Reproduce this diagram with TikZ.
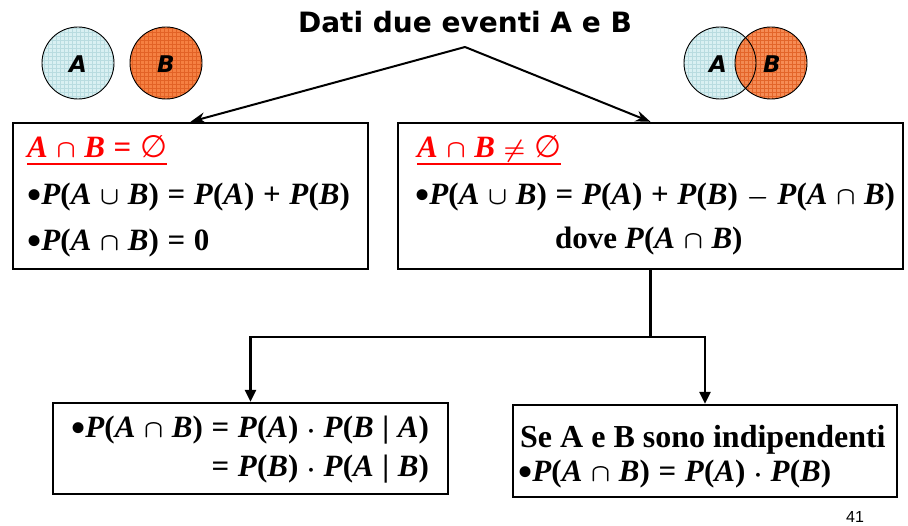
\documentclass[tikz,border=0pt]{standalone}
\usepackage{amssymb}
\usepackage{graphicx}
\usepackage{fontspec}
\setmainfont{Liberation Serif}
\newfontfamily\comicf{DejaVu Sans}
\newfontfamily\arialf{Liberation Sans}
\newfontfamily\symf{DejaVu Sans}
\usetikzlibrary{arrows.meta}
\definecolor{acyan}{RGB}{217,240,242}
\definecolor{acyangrid}{RGB}{185,220,224}
\definecolor{borange}{RGB}{245,128,66}
\definecolor{borangegrid}{RGB}{226,98,38}
\definecolor{redtxt}{RGB}{255,0,0}
\newcommand\vv[1]{\textbf{\textit{#1}}}
\newcommand\PP[1]{\vv{P}\textbf{(}#1\textbf{)}}
\newcommand\gp{\hspace{0.28em}}
\newcommand\capo{\gp$\cap$\gp}
\newcommand\cupo{\gp$\cup$\gp}
\newcommand\eqo{\gp\textbf{=}\gp}
\newcommand\pluso{\gp\textbf{+}\gp}
\newcommand\minuso{\gp$-$\gp}
\newcommand\dotto{\gp$\cdot$\gp}
\newcommand\baro{\gp\textbf{|}\gp}
\newcommand\bul{\raisebox{-0.1em}{\scalebox{1.3}{\textbf{\textbullet}}}}
\newcommand\emptyo{{\symf\mdseries\upshape ∅}}
\newcommand\vennc[4]{%
  \fill[#3] (#1,#2) circle (36pt);
  \begin{scope}
    \clip (#1,#2) circle (36pt);
    \draw[#4, line width=0.35pt, step=4pt] (#1-40,#2-40) grid (#1+40,#2+40);
  \end{scope}}
\tikzset{
  box/.style={draw, line width=2.4pt, inner sep=0pt},
  eq/.style={inner sep=0pt, anchor=base west, font=\fontsize{31}{36}\selectfont\boldmath\bfseries},
  txtl/.style={inner sep=0pt, anchor=base west, font=\fontsize{32}{38}\selectfont\bfseries},
  reqn/.style={eq, text=redtxt},
  conn/.style={line width=2.4pt},
  lbl/.style={font=\comicf\bfseries\itshape\fontsize{23}{26}\selectfont, inner sep=0pt},
  topar/.style={line width=2pt, -{Stealth[length=15pt,width=11pt]}},
  botar/.style={conn, -{Triangle[length=12pt,width=11pt]}},
}
\begin{document}
\begin{tikzpicture}[x=1pt,y=-1pt]
\useasboundingbox (0,0) rectangle (908,526);
% Venn diagrams
\vennc{78}{63}{acyan}{acyangrid}
\draw[line width=0.9pt] (78,63) circle (36pt);
\vennc{166}{63}{borange}{borangegrid}
\draw[line width=0.9pt] (166,63) circle (36pt);
\node[lbl] (la) at (78,64) {A};
\node[lbl] (lb) at (166,64) {B};
\vennc{720}{63}{acyan}{acyangrid}
\begin{scope}[opacity=0.9]
\vennc{771}{63}{borange}{borangegrid}
\end{scope}
\draw[line width=0.9pt] (720,63) circle (36pt);
\draw[line width=0.9pt] (771,63) circle (36pt);
\node[lbl] (ra) at (718,64) {A};
\node[lbl] (rb) at (772,64) {B};
% title
\node[font=\comicf\bfseries\fontsize{28}{32}\selectfont, inner sep=0pt, anchor=base] (title) at (465,33) {Dati due eventi A e B};
\coordinate (apex) at (465,47);
% boxes
\node[box, minimum width=355pt, minimum height=146pt] (lbox) at (190.5,196) {};
\node[box, minimum width=505pt, minimum height=146pt] (rbox) at (650.5,196) {};
\node[box, minimum width=395pt, minimum height=91pt] (blbox) at (250.5,448.5) {};
\node[box, minimum width=384pt, minimum height=92pt] (brbox) at (705,451) {};
% left box text
\node[reqn] (l1) at (27,158) {\vv{A}\capo\vv{B}\eqo\emptyo};
\draw[redtxt, line width=1.6pt] ([yshift=-6pt]l1.base west) -- ([yshift=-6pt]l1.base east);
\node[eq] (l2) at (27,205) {\bul\PP{\vv{A}\cupo\vv{B}}\eqo\PP{\vv{A}}\pluso\PP{\vv{B}}};
\node[eq] (l3) at (27,251) {\bul\PP{\vv{A}\capo\vv{B}}\eqo\textbf{0}};
% right box text
\node[reqn] (r1) at (417,158) {\vv{A}\capo\vv{B}\gp$\neq$\gp\emptyo};
\draw[redtxt, line width=1.6pt] ([yshift=-6pt]r1.base west) -- ([yshift=-6pt]r1.base east);
\node[eq] (r2) at (415,205) {\bul\PP{\vv{A}\cupo\vv{B}}\eqo\PP{\vv{A}}\pluso\PP{\vv{B}}\minuso\PP{\vv{A}\capo\vv{B}}};
\node[eq] (r3) at (555,249) {dove \PP{\vv{A}\capo\vv{B}}};
% bottom left text
\node[eq] (bl1) at (71,438) {\bul\PP{\vv{A}\capo\vv{B}}\eqo\PP{\vv{A}}\dotto\PP{\vv{B}\baro\vv{A}}};
\node[eq, anchor=base east] (bl2) at (bl1.base east |- 0,476) {\eqo\PP{\vv{B}}\dotto\PP{\vv{A}\baro\vv{B}}};
% bottom right text
\node[txtl] (br1) at (520,448) {Se A e B sono indipendenti};
\node[eq] (br2) at (518,482) {\bul\PP{\vv{A}\capo\vv{B}}\eqo\PP{\vv{A}}\dotto\PP{\vv{B}}};
% page number
\node[font=\arialf\fontsize{16}{18}\selectfont, inner sep=0pt, anchor=base] (pg) at (855,522) {41};
% connectors
\draw[topar] (apex) -- (lbox.north);
\draw[topar] (apex) -- (rbox.north);
\draw[conn] (rbox.south) -- ++(0,67) coordinate (j);
\draw[botar] (j) -| (blbox.north);
\draw[botar] (j) -| (brbox.north);
\end{tikzpicture}
\end{document}
